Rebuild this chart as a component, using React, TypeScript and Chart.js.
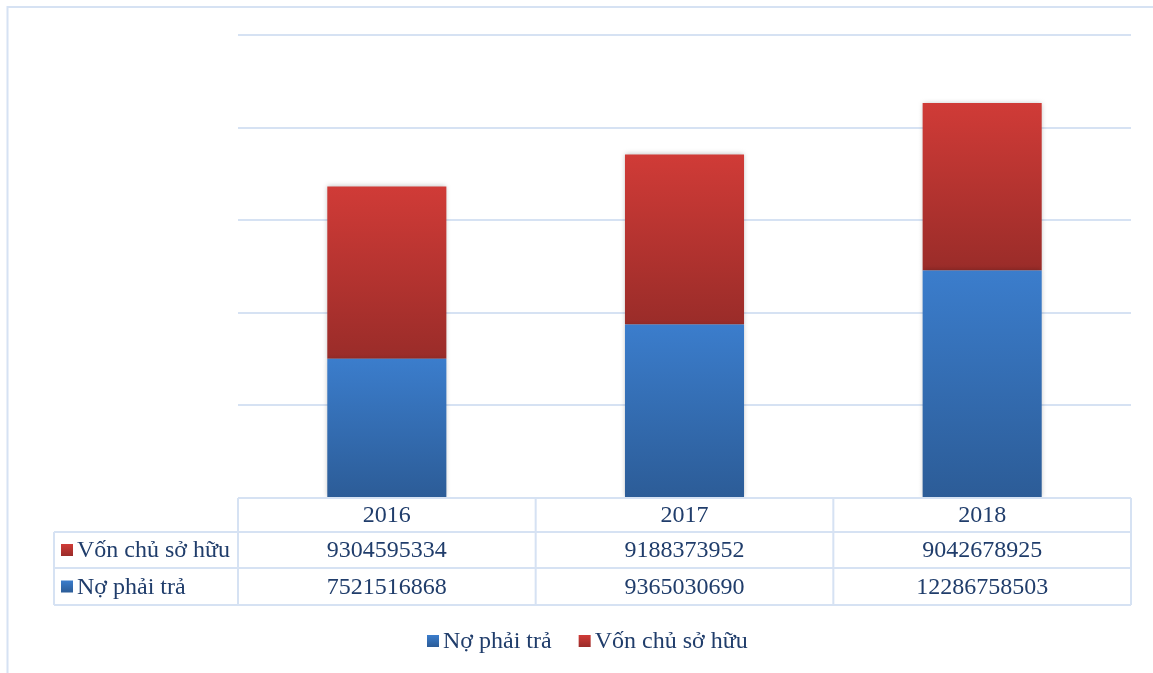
import React, { useEffect, useRef } from "react";
import { Chart, registerables } from "chart.js";

Chart.register(...registerables);

const categories = ["2016", "2017", "2018"];
const debtValues = [7521516868, 9365030690, 12286758503];
const equityValues = [9304595334, 9188373952, 9042678925];
const debtLabel = "Nợ phải trả";
const equityLabel = "Vốn chủ sở hữu";
const yMax = 25000000000;
const yStep = 5000000000;

const BLUE_TOP = "#3B7DCC";
const BLUE_BOTTOM = "#2C5C97";
const RED_TOP = "#D03B37";
const RED_BOTTOM = "#9A2C29";
const LINE = "#D6E2F3";
const TEXT = "#203D6B";
const FONT = '24px "Liberation Serif", "Times New Roman", serif';

function segmentGradient(chart: any, dsIndex: number, i: number, top: string, bottom: string) {
  const y = chart.scales && chart.scales.y;
  if (!y || !chart.chartArea) return top;
  const start = dsIndex === 0 ? 0 : debtValues[i];
  const value = dsIndex === 0 ? debtValues[i] : equityValues[i];
  const yTop = y.getPixelForValue(start + value);
  const yBot = y.getPixelForValue(start);
  if (!isFinite(yTop) || !isFinite(yBot)) return top;
  const g = chart.ctx.createLinearGradient(0, yTop, 0, yBot);
  g.addColorStop(0, top);
  g.addColorStop(1, bottom);
  return g;
}

function square(ctx: CanvasRenderingContext2D, x: number, y: number, top: string, bottom: string) {
  const g = ctx.createLinearGradient(0, y, 0, y + 12);
  g.addColorStop(0, top);
  g.addColorStop(1, bottom);
  ctx.fillStyle = g;
  ctx.fillRect(x, y, 12, 12);
}

const shadowPlugin = {
  id: "barShadow",
  beforeDatasetsDraw(chart: any) {
    const ctx = chart.ctx;
    ctx.save();
    ctx.shadowColor = "rgba(0,0,0,0.25)";
    ctx.shadowBlur = 5;
    ctx.shadowOffsetX = 0;
    ctx.shadowOffsetY = 0;
  },
  afterDatasetsDraw(chart: any) {
    chart.ctx.restore();
  },
};

const tablePlugin = {
  id: "dataTable",
  beforeDraw(chart: any) {
    const ctx = chart.ctx;
    ctx.save();
    ctx.fillStyle = "#FFFFFF";
    ctx.fillRect(0, 0, chart.width, chart.height);
    ctx.strokeStyle = LINE;
    ctx.lineWidth = 2;
    ctx.beginPath();
    ctx.moveTo(7.5, chart.height);
    ctx.lineTo(7.5, 7);
    ctx.lineTo(chart.width, 7);
    ctx.stroke();
    ctx.restore();
  },
  afterDraw(chart: any) {
    const ctx = chart.ctx;
    const area = chart.chartArea;
    const xs = chart.scales.x;
    const n = categories.length;
    const colW = (area.right - area.left) / n;
    const top = area.bottom;
    const rows = [top, top + 34, top + 70, top + 107];
    const labelLeft = 54;
    ctx.save();
    ctx.strokeStyle = LINE;
    ctx.lineWidth = 2;
    ctx.beginPath();
    ctx.moveTo(area.left, rows[0]);
    ctx.lineTo(area.right, rows[0]);
    for (let r = 1; r < rows.length; r++) {
      ctx.moveTo(labelLeft, rows[r]);
      ctx.lineTo(area.right, rows[r]);
    }
    ctx.moveTo(labelLeft, rows[1]);
    ctx.lineTo(labelLeft, rows[3]);
    for (let c = 0; c <= n; c++) {
      const x = area.left + c * colW;
      ctx.moveTo(x, rows[0]);
      ctx.lineTo(x, rows[3]);
    }
    ctx.stroke();

    ctx.font = FONT;
    ctx.fillStyle = TEXT;
    ctx.textBaseline = "middle";
    ctx.textAlign = "center";
    for (let i = 0; i < n; i++) {
      const cx = xs.getPixelForValue(i);
      ctx.fillText(categories[i], cx, (rows[0] + rows[1]) / 2 + 1);
      ctx.fillText(String(equityValues[i]), cx, (rows[1] + rows[2]) / 2 + 1);
      ctx.fillText(String(debtValues[i]), cx, (rows[2] + rows[3]) / 2 + 1);
    }
    ctx.textAlign = "left";
    square(ctx, 61, (rows[1] + rows[2]) / 2 - 6, RED_TOP, RED_BOTTOM);
    ctx.fillStyle = TEXT;
    ctx.fillText(equityLabel, 77, (rows[1] + rows[2]) / 2 + 1);
    square(ctx, 61, (rows[2] + rows[3]) / 2 - 6, BLUE_TOP, BLUE_BOTTOM);
    ctx.fillStyle = TEXT;
    ctx.fillText(debtLabel, 77, (rows[2] + rows[3]) / 2 + 1);

    // legend
    const ly = 641;
    const w1 = ctx.measureText(debtLabel).width;
    const w2 = ctx.measureText(equityLabel).width;
    const gap = 4;
    const sep = 27;
    const total = 12 + gap + w1 + sep + 12 + gap + w2;
    let x = Math.round(587.5 - total / 2);
    square(ctx, x, ly - 6, BLUE_TOP, BLUE_BOTTOM);
    x += 12 + gap;
    ctx.fillStyle = TEXT;
    ctx.fillText(debtLabel, x, ly + 1);
    x += w1 + sep;
    square(ctx, x, ly - 6, RED_TOP, RED_BOTTOM);
    x += 12 + gap;
    ctx.fillStyle = TEXT;
    ctx.fillText(equityLabel, x, ly + 1);
    ctx.restore();
  },
};

export default function App() {
  const ref = useRef<HTMLCanvasElement>(null);
  useEffect(() => {
    if (!ref.current) return;
    const chart = new Chart(ref.current, {
      type: "bar",
      data: {
        labels: categories,
        datasets: [
          {
            label: debtLabel,
            data: debtValues,
            backgroundColor: (c: any) => segmentGradient(c.chart, 0, c.dataIndex, BLUE_TOP, BLUE_BOTTOM),
            borderWidth: 0,
            barPercentage: 0.4,
            categoryPercentage: 1,
          },
          {
            label: equityLabel,
            data: equityValues,
            backgroundColor: (c: any) => segmentGradient(c.chart, 1, c.dataIndex, RED_TOP, RED_BOTTOM),
            borderWidth: 0,
            barPercentage: 0.4,
            categoryPercentage: 1,
          },
        ],
      },
      options: {
        responsive: false,
        animation: false,
        devicePixelRatio: 1,
        layout: { padding: { left: 238, right: 22, top: 35, bottom: 175 } },
        plugins: { legend: { display: false }, tooltip: { enabled: false } },
        scales: {
          x: { stacked: true, display: false },
          y: {
            stacked: true,
            min: 0,
            max: yMax,
            ticks: { display: false, stepSize: yStep },
            grid: { color: LINE, lineWidth: 2, drawTicks: false },
            border: { display: false },
          },
        },
      },
      plugins: [tablePlugin, shadowPlugin],
    });
    return () => chart.destroy();
  }, []);
  return (
    <div style={{ position: "absolute", left: 0, top: 0, width: 1153, height: 673 }}>
      <canvas ref={ref} width={1153} height={673} />
    </div>
  );
}
